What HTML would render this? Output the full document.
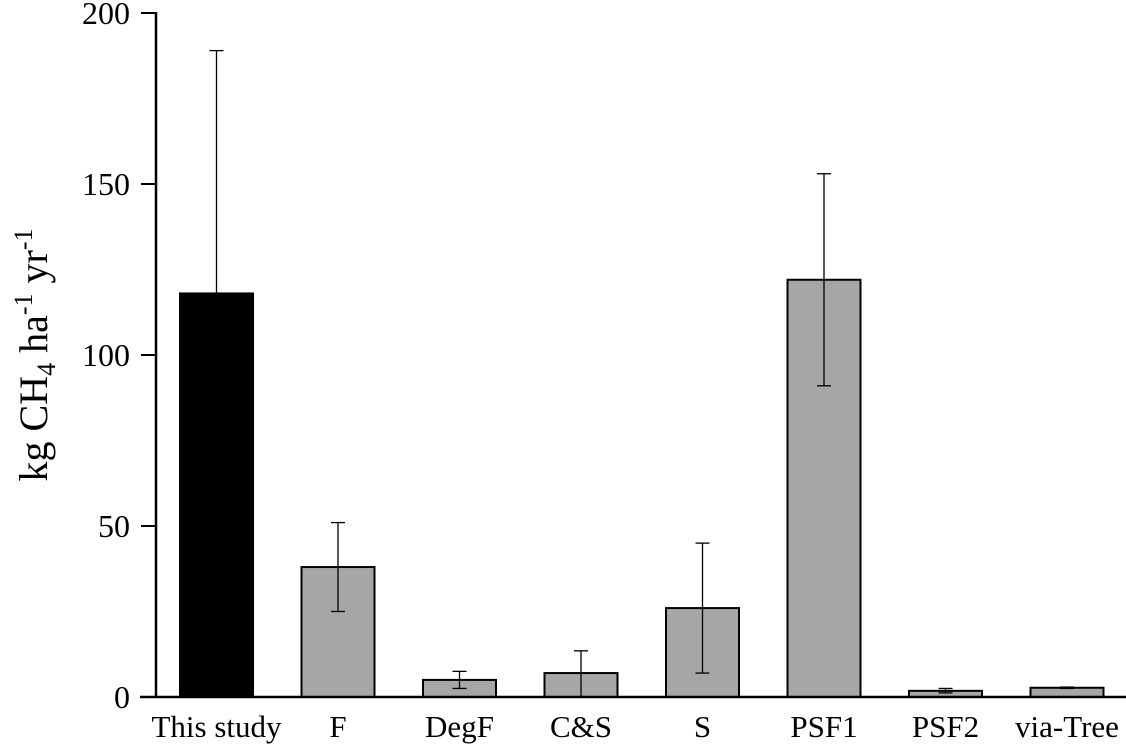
<!DOCTYPE html>
<html><head><meta charset="utf-8"><style>
body{margin:0;background:#fff}
svg{display:block}
text{font-family:"Liberation Serif",serif;fill:#000}
</style></head><body>
<svg id="chart" width="1126" height="746">
<g id="bars"></g>
<g id="axes"></g>
<text transform="translate(47,355) rotate(-90)" text-anchor="middle" font-size="40">kg CH<tspan font-size="26" dy="8">4</tspan><tspan dy="-8"> ha</tspan><tspan font-size="26" dy="-15">-1</tspan><tspan dy="15"> yr</tspan><tspan font-size="26" dy="-15">-1</tspan></text>
</svg>
<script>
const categories=["This study","F","DegF","C&S","S","PSF1","PSF2","via-Tree"];
const values=[118,38,5,7,26,122,1.8,2.7];
const errHigh=[189,51,7.5,13.5,45,153,2.5,2.9];
const errLow=[47,25,2.5,0,7,91,1.2,2.5];
const yTicks=[0,50,100,150,200];
const NS="http://www.w3.org/2000/svg";
const y=v=>697-v*3.42;
const xc=i=>216.5+i*121.5;
const bw=73;
function mk(tag,attrs,parent){const e=document.createElementNS(NS,tag);for(const k in attrs)e.setAttribute(k,attrs[k]);parent.appendChild(e);return e;}
const bars=document.getElementById('bars'),axes=document.getElementById('axes');
categories.forEach((c,i)=>{
  const r=mk('rect',{x:xc(i)-bw/2,y:y(values[i]),width:bw,height:697-y(values[i]),fill:i==0?'#000':'#a6a6a6',stroke:'#000','stroke-width':2},bars);
  
  
  const g=mk('g',{stroke:'#000','stroke-width':1.3},bars);
  
  
  mk('line',{x1:xc(i),x2:xc(i),y1:y(errHigh[i]),y2:y(errLow[i])},g);
  mk('line',{x1:xc(i)-7,x2:xc(i)+7,y1:y(errHigh[i]),y2:y(errHigh[i])},g);
  mk('line',{x1:xc(i)-7,x2:xc(i)+7,y1:y(errLow[i]),y2:y(errLow[i])},g);
  const t=mk('text',{x:xc(i),y:737,'text-anchor':'middle','font-size':31},axes);
  t.textContent=c;
  
  
});
const ya=mk('line',{x1:156,x2:156,y1:12,y2:698,stroke:'#000','stroke-width':2.5},axes);


const xa=mk('line',{x1:140,x2:1126,y1:697,y2:697,stroke:'#000','stroke-width':2.5},axes);


yTicks.forEach(v=>{
  mk('line',{x1:141,x2:156,y1:y(v),y2:y(v),stroke:'#000','stroke-width':2},axes);
  const t=mk('text',{x:130,y:y(v)+11,'text-anchor':'end','font-size':32},axes);
  t.textContent=v;
  
  
});
</script>
</body></html>
